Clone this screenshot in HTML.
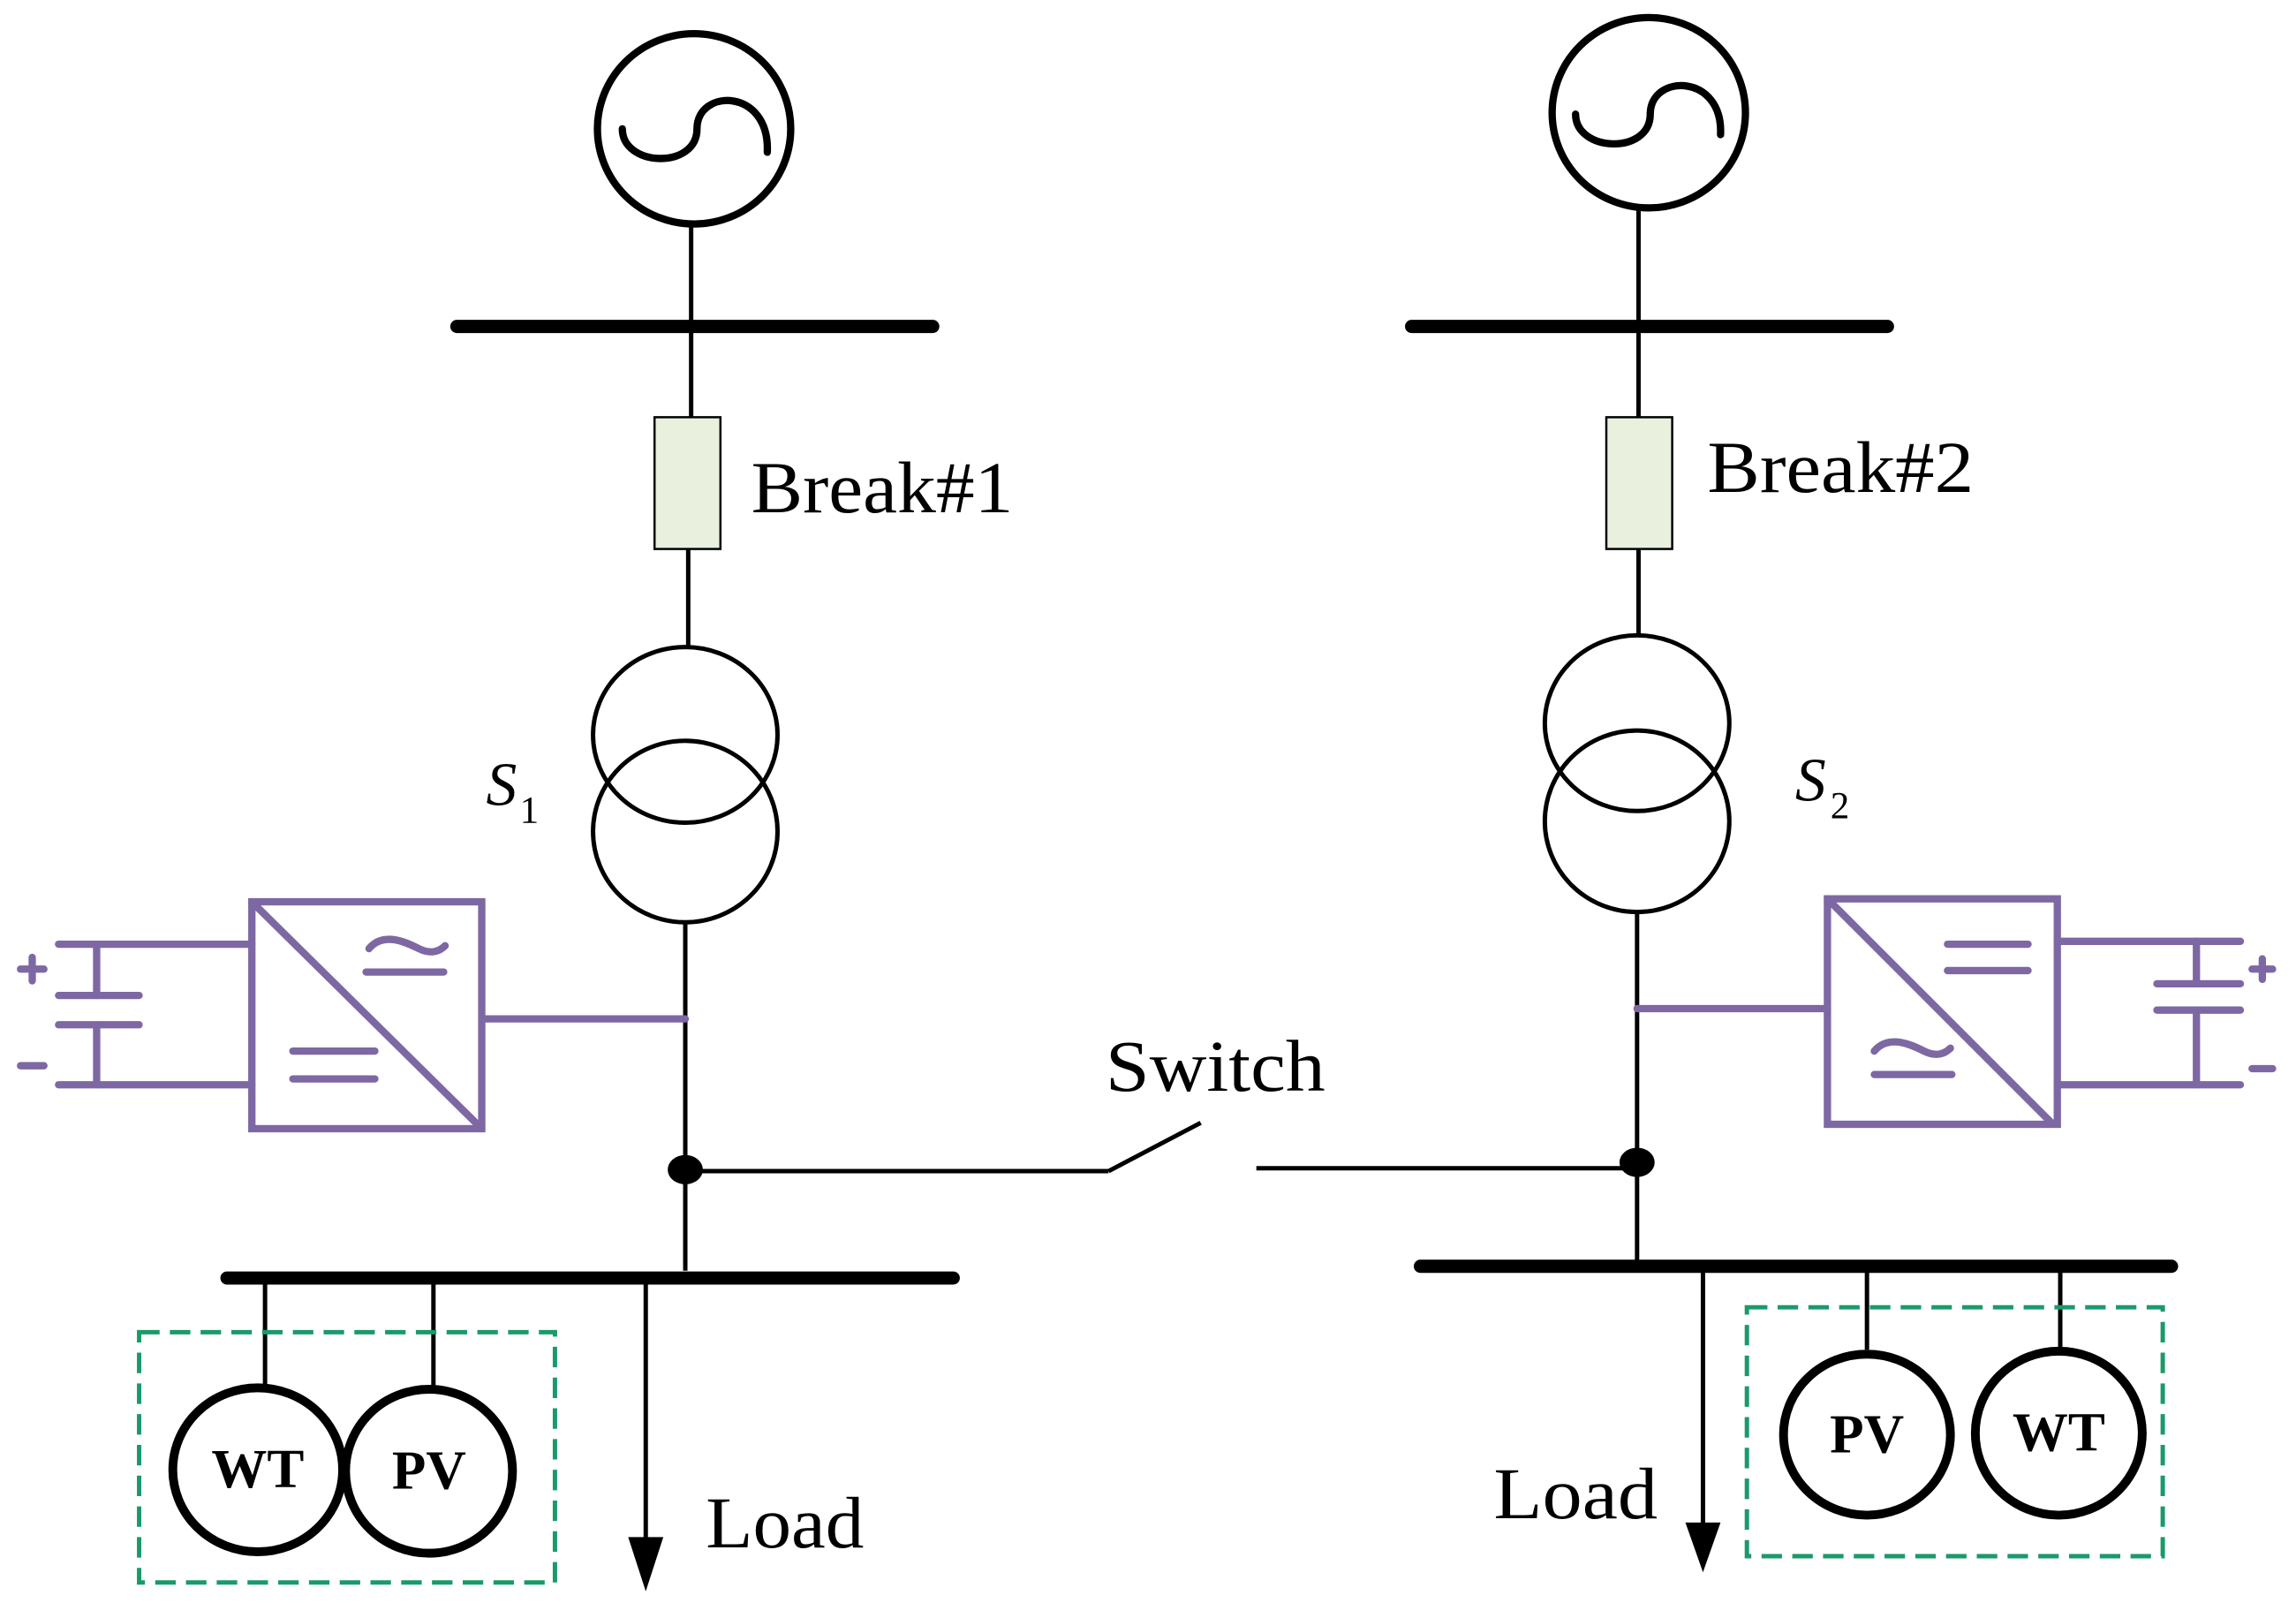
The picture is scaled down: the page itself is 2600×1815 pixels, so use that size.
<!DOCTYPE html>
<html><head><style>html,body{margin:0;padding:0;background:#fff}svg{display:block}</style></head><body>
<svg width="2600" height="1815" viewBox="0 0 1568 1095" preserveAspectRatio="none" xmlns="http://www.w3.org/2000/svg" font-family="Liberation Serif, serif">
<g fill="none" stroke="#000">
<!-- left generator -->
<ellipse cx="474" cy="88" rx="66" ry="65" stroke-width="5"/>
<path d="M425,88 C425,114 476,116 476,88 C476,60 526,60 524,104" stroke-width="5" stroke-linecap="round"/>
<line x1="472" y1="153" x2="472" y2="285" stroke-width="3"/>
<line x1="312" y1="223" x2="637" y2="223" stroke-width="9" stroke-linecap="round"/>
<rect x="447" y="285" width="45" height="90" fill="#e9f0de" stroke-width="1.5"/>
<line x1="470" y1="375" x2="470" y2="442" stroke-width="3"/>
<ellipse cx="468" cy="502" rx="63" ry="60" stroke-width="3"/>
<ellipse cx="468" cy="568" rx="63" ry="62" stroke-width="3"/>
<line x1="468" y1="630" x2="468" y2="868" stroke-width="3"/>
<line x1="468" y1="800" x2="757" y2="800" stroke-width="3"/>
<line x1="757" y1="800" x2="820" y2="767" stroke-width="3"/>
<line x1="858" y1="798" x2="1118" y2="798" stroke-width="3"/>
<line x1="155" y1="873" x2="651" y2="873" stroke-width="9" stroke-linecap="round"/>
<line x1="181" y1="873" x2="181" y2="947" stroke-width="3"/>
<line x1="296" y1="873" x2="296" y2="947" stroke-width="3"/>
<line x1="441" y1="873" x2="441" y2="1055" stroke-width="3"/>
<ellipse cx="176" cy="1004" rx="58" ry="56" stroke-width="6"/>
<ellipse cx="293" cy="1005" rx="57" ry="56" stroke-width="6"/>
<!-- right generator -->
<ellipse cx="1126" cy="77" rx="66" ry="65" stroke-width="5"/>
<path d="M1076,78 C1076,104 1127,106 1127,78 C1127,50 1177,50 1175,92" stroke-width="5" stroke-linecap="round"/>
<line x1="1119" y1="142" x2="1119" y2="285" stroke-width="3"/>
<line x1="964" y1="223" x2="1289" y2="223" stroke-width="9" stroke-linecap="round"/>
<rect x="1097" y="285" width="45" height="90" fill="#e9f0de" stroke-width="1.5"/>
<line x1="1119" y1="375" x2="1119" y2="435" stroke-width="3"/>
<ellipse cx="1118" cy="494" rx="63" ry="60" stroke-width="3"/>
<ellipse cx="1118" cy="561" rx="63" ry="62" stroke-width="3"/>
<line x1="1118" y1="622" x2="1118" y2="862" stroke-width="3"/>
<line x1="970" y1="865" x2="1483" y2="865" stroke-width="9" stroke-linecap="round"/>
<line x1="1163" y1="865" x2="1163" y2="1045" stroke-width="3"/>
<line x1="1275" y1="865" x2="1275" y2="922" stroke-width="3"/>
<line x1="1407" y1="865" x2="1407" y2="922" stroke-width="3"/>
<ellipse cx="1275" cy="980" rx="57" ry="55" stroke-width="6"/>
<ellipse cx="1406" cy="979" rx="57" ry="56" stroke-width="6"/>
</g>
<ellipse cx="468" cy="799" rx="12" ry="10"/>
<ellipse cx="1118" cy="794" rx="12" ry="10"/>
<polygon points="429,1050 453,1050 441,1087"/>
<polygon points="1151,1040 1175,1040 1163,1074"/>
<g fill="none" stroke="#1a9a6a" stroke-width="3" stroke-dasharray="14 7">
<rect x="95" y="910" width="284" height="171"/>
<rect x="1193" y="893" width="284" height="170"/>
</g>
<g fill="none" stroke="#7d68a3" stroke-width="5" stroke-linecap="round">
<rect x="172" y="616" width="157" height="155"/>
<line x1="172" y1="616" x2="329" y2="771"/>
<line x1="330" y1="696" x2="468" y2="696"/>
<path d="M252,648 C262,636 278,644 286,648 C294,652 300,650 304,646"/>
<line x1="250" y1="664" x2="303" y2="664"/>
<line x1="200" y1="718" x2="256" y2="718"/>
<line x1="200" y1="737" x2="256" y2="737"/>
<line x1="40" y1="645" x2="172" y2="645"/>
<line x1="40" y1="741" x2="172" y2="741"/>
<line x1="66" y1="645" x2="66" y2="680"/>
<line x1="66" y1="700" x2="66" y2="741"/>
<line x1="40" y1="680" x2="95" y2="680"/>
<line x1="40" y1="700" x2="95" y2="700"/>
<line x1="14" y1="662" x2="30" y2="662"/><line x1="22" y1="654" x2="22" y2="670"/>
<line x1="14" y1="728" x2="30" y2="728"/>
<rect x="1248" y="614" width="157" height="154"/>
<line x1="1248" y1="614" x2="1402" y2="768"/>
<line x1="1118" y1="689" x2="1248" y2="689"/>
<line x1="1330" y1="645" x2="1385" y2="645"/>
<line x1="1330" y1="663" x2="1385" y2="663"/>
<path d="M1280,718 C1290,706 1306,714 1314,718 C1322,722 1328,720 1332,716"/>
<line x1="1280" y1="734" x2="1333" y2="734"/>
<line x1="1405" y1="643" x2="1530" y2="643"/>
<line x1="1405" y1="741" x2="1530" y2="741"/>
<line x1="1500" y1="643" x2="1500" y2="672"/>
<line x1="1500" y1="690" x2="1500" y2="741"/>
<line x1="1473" y1="672" x2="1530" y2="672"/>
<line x1="1473" y1="690" x2="1530" y2="690"/>
<line x1="1538" y1="662" x2="1552" y2="662"/><line x1="1545" y1="655" x2="1545" y2="669"/>
<line x1="1538" y1="730" x2="1552" y2="730"/>
</g>
<g font-size="50" fill="#000">
<text x="513" y="350" textLength="179" lengthAdjust="spacingAndGlyphs">Break#1</text>
<text x="1166" y="336" textLength="182" lengthAdjust="spacingAndGlyphs">Break#2</text>
<text x="755" y="745" textLength="150" lengthAdjust="spacingAndGlyphs">Switch</text>
<text x="482" y="1057" textLength="108" lengthAdjust="spacingAndGlyphs">Load</text>
<text x="1020" y="1037" textLength="112" lengthAdjust="spacingAndGlyphs">Load</text>
</g>
<g font-style="italic" font-size="42">
<text x="332" y="550">S</text><text x="1226" y="547">S</text>
</g>
<g font-size="26"><text x="355" y="562">1</text><text x="1250" y="559">2</text></g>
<g font-size="38" font-weight="bold" text-anchor="middle">
<text x="176" y="1016">WT</text><text x="293" y="1017">PV</text>
<text x="1275" y="992">PV</text><text x="1406" y="991">WT</text>
</g>
</svg>
</body></html>
